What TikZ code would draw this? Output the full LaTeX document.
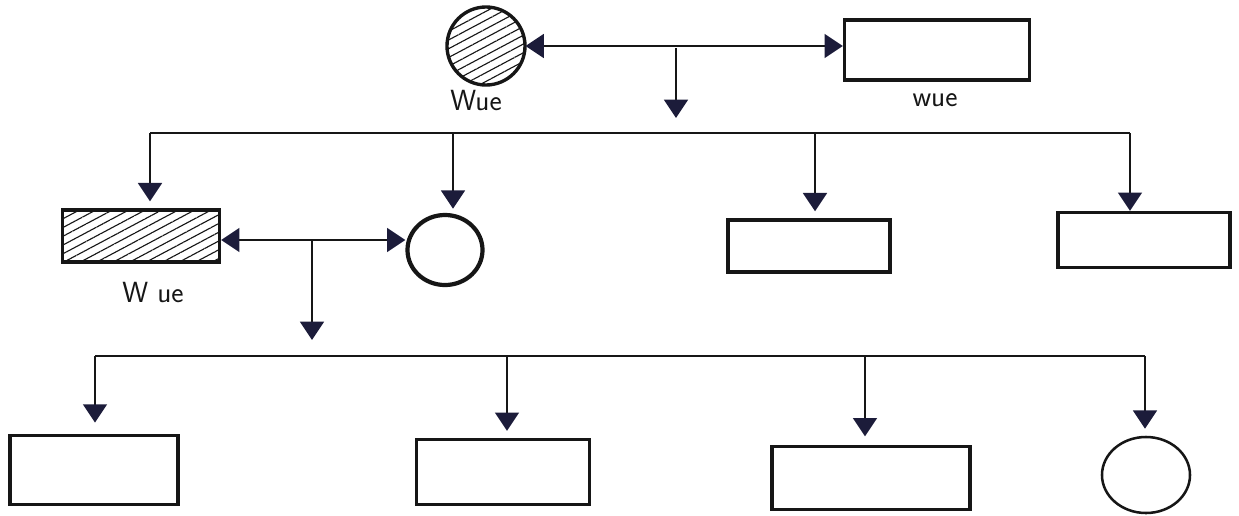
\documentclass[tikz,border=0pt]{standalone}
\usetikzlibrary{arrows.meta,patterns.meta,shapes.geometric}
\definecolor{ink}{HTML}{161616}
\definecolor{tipink}{HTML}{1C1C3A}
\begin{document}
\begin{tikzpicture}[x=0.025cm,y=-0.025cm,
  shapeline/.style={draw=ink,line width=2.4pt},
  malebox/.style={shapeline,rectangle,inner sep=0pt},
  femalering/.style={shapeline,ellipse,inner sep=0pt},
  hatched/.style={pattern={Lines[angle=28,distance=5.5pt,line width=0.8pt]},pattern color=ink},
  link/.style={draw=ink,line width=1.3pt},
  tipdown/.style={-{Triangle[width=17pt,length=13pt,color=tipink]}},
  tipboth/.style={{Triangle[width=17pt,length=13pt,color=tipink]}-{Triangle[width=17pt,length=13pt,color=tipink]}},
  lbl/.style={font=\sffamily\huge,text=ink}]
\useasboundingbox (0,0) rectangle (1239,515);

% first generation
\node[femalering,hatched,minimum width=1.95cm,minimum height=1.95cm] (gm) at (486,46) {};
\node[malebox,minimum width=4.625cm,minimum height=1.5cm] (gf) at (937,50) {};
\node[lbl] (lgm) at (476,100) {Wue};
\node[lbl] (lgf) at (935,100) {wue};
\draw[link,tipboth] (gm.east) -- (gm.east -| gf.west);
\coordinate (d1) at (676,48);
\coordinate (d1e) at (676,118);
\draw[link,tipdown] (d1) -- (d1e);

% second generation
\node[malebox,hatched,minimum width=3.925cm,minimum height=1.3cm] (p1) at (141,236) {};
\node[femalering,line width=3pt,minimum width=1.875cm,minimum height=1.75cm] (c2) at (445,250) {};
\node[malebox,minimum width=4.05cm,minimum height=1.3cm] (r3) at (809,246) {};
\node[malebox,minimum width=4.3cm,minimum height=1.375cm] (r4) at (1144,240) {};
\node[lbl] (lp1) at (153,292) {W ue};

\coordinate (k1) at (150,133);
\coordinate (k2) at (453,133);
\coordinate (k3) at (815,133);
\coordinate (k4) at (1130,133);
\draw[link] (k1) -- (k4);
\draw[link,tipdown,shorten >=5pt] (k1) -- (k1 |- p1.north);
\draw[link,tipdown,shorten >=3pt] (k2) -- (k2 |- c2.north);
\draw[link,tipdown,shorten >=5pt] (k3) -- (k3 |- r3.north);
\draw[link,tipdown] (k4) -- (k4 |- r4.north);

\draw[link,tipboth] (p1.east |- 0,240) -- (c2.west |- 0,240);
\coordinate (d2) at (312,240);
\coordinate (d2e) at (312,340);
\draw[link,tipdown] (d2) -- (d2e);

% third generation
\node[malebox,minimum width=4.2cm,minimum height=1.725cm] (b1) at (94,470) {};
\node[malebox,minimum width=4.325cm,minimum height=1.625cm] (b2) at (503,472) {};
\node[malebox,minimum width=4.95cm,minimum height=1.575cm] (b3) at (871,478) {};
\node[femalering,line width=1.8pt,minimum width=2.2cm,minimum height=1.9cm] (b4) at (1146,475) {};

\coordinate (j1) at (95,356);
\coordinate (j2) at (507,356);
\coordinate (j3) at (865,356);
\coordinate (j4) at (1145,356);
\draw[link] (j1) -- (j4);
\draw[link,tipdown,shorten >=8pt] (j1) -- (j1 |- b1.north);
\draw[link,tipdown,shorten >=5pt] (j2) -- (j2 |- b2.north);
\draw[link,tipdown,shorten >=6pt] (j3) -- (j3 |- b3.north);
\draw[link,tipdown,shorten >=5pt] (j4) -- (j4 |- b4.north);
\end{tikzpicture}
\end{document}
